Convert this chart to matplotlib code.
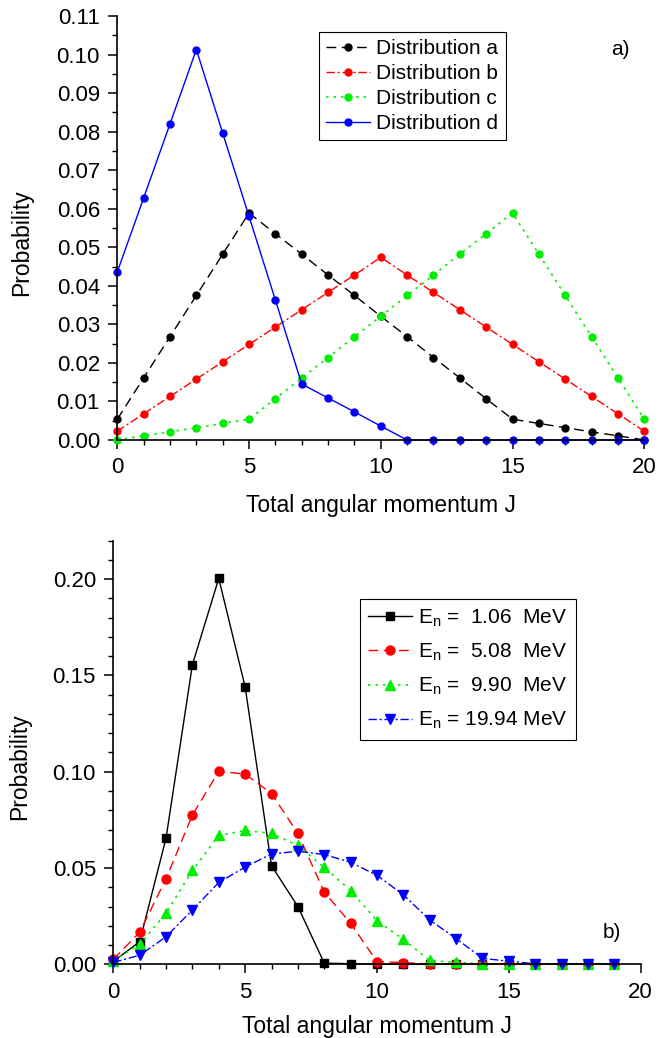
import matplotlib
matplotlib.use("Agg")
import matplotlib.pyplot as plt
from matplotlib.ticker import MultipleLocator, FormatStrFormatter

plt.rcParams['font.family'] = ['Liberation Sans', 'DejaVu Sans']
plt.rcParams['mathtext.default'] = 'regular'

# --- data -------------------------------------------------------------
J_top = list(range(0, 21))
dist_a = [0.0054, 0.0161, 0.0268, 0.0375, 0.0482, 0.0589, 0.0535, 0.0482,
          0.0428, 0.0375, 0.0321, 0.0268, 0.0214, 0.0161, 0.0107, 0.0054,
          0.0043, 0.0032, 0.0021, 0.0011, 0.0]
dist_b = [0.0023, 0.0068, 0.0113, 0.0158, 0.0203, 0.0248, 0.0293, 0.0338,
          0.0383, 0.0428, 0.0474, 0.0428, 0.0383, 0.0338, 0.0293, 0.0248,
          0.0203, 0.0158, 0.0113, 0.0068, 0.0023]
dist_c = [0.0, 0.0011, 0.0021, 0.0032, 0.0043, 0.0054, 0.0107, 0.0161,
          0.0214, 0.0268, 0.0321, 0.0375, 0.0428, 0.0482, 0.0535, 0.0589,
          0.0482, 0.0375, 0.0268, 0.0161, 0.0054]
dist_d = [0.0436, 0.0628, 0.0820, 0.1013, 0.0796, 0.0580, 0.0363, 0.0145,
          0.0109, 0.0073, 0.0036, 0.0, 0.0, 0.0, 0.0, 0.0, 0.0, 0.0, 0.0,
          0.0, 0.0]
top_labels = ["Distribution a", "Distribution b", "Distribution c", "Distribution d"]

J_bot = list(range(0, 20))
e_106 = [0.0015, 0.0117, 0.0655, 0.1556, 0.2004, 0.1441, 0.0512, 0.0300,
         0.0006, 0.0003, 0.0, 0.0, 0.0, 0.0, 0.0, 0.0, 0.0, 0.0, 0.0, 0.0]
e_508 = [0.0025, 0.0167, 0.0444, 0.0775, 0.1002, 0.0988, 0.0887, 0.0680,
         0.0375, 0.0213, 0.0014, 0.0009, 0.0002, 0.0001, 0.0, 0.0, 0.0, 0.0,
         0.0, 0.0]
e_990 = [0.0018, 0.0103, 0.0265, 0.0488, 0.0669, 0.0695, 0.0680, 0.0617,
         0.0503, 0.0383, 0.0226, 0.0129, 0.0020, 0.0010, 0.0004, 0.0003,
         0.0003, 0.0003, 0.0003, 0.0003]
e_1994 = [0.0010, 0.0047, 0.0143, 0.0282, 0.0425, 0.0505, 0.0573, 0.0587,
          0.0570, 0.0530, 0.0462, 0.0361, 0.0230, 0.0134, 0.0031, 0.0016,
          0.0003, 0.0003, 0.0003, 0.0003]
bot_labels = [r"E$_{n}$ =  1.06  MeV", r"E$_{n}$ =  5.08  MeV",
              r"E$_{n}$ =  9.90  MeV", r"E$_{n}$ = 19.94 MeV"]

# --- figure -----------------------------------------------------------
fig = plt.figure(figsize=(6.68, 10.38), dpi=100)
ax1 = fig.add_axes([0.1756, 0.5761, 0.7889, 0.4085])
ax2 = fig.add_axes([0.1696, 0.0710, 0.7895, 0.4081])

FS_TICK = 16
FS_LAB = 16.5
FS_LEG = 15

ms = 5
ax1.plot(J_top, dist_a, color="black", ls=(0, (7, 4)), lw=1, marker="o", ms=ms, label=top_labels[0])
ax1.plot(J_top, dist_b, color="red", ls=(0, (6, 2, 1.5, 2)), lw=1, marker="o", ms=ms, label=top_labels[1])
ax1.plot(J_top, dist_c, color="#00ee00", ls=(0, (1.5, 3)), lw=1.2, marker="o", ms=ms, label=top_labels[2])
ax1.plot(J_top, dist_d, color="blue", ls="-", lw=1, marker="o", ms=ms, label=top_labels[3])

ax1.set_xlim(0, 20)
ax1.set_ylim(0, 0.11)
ax1.xaxis.set_major_locator(MultipleLocator(5))
ax1.xaxis.set_minor_locator(MultipleLocator(1))
ax1.yaxis.set_major_locator(MultipleLocator(0.01))
ax1.yaxis.set_minor_locator(MultipleLocator(0.005))
ax1.yaxis.set_major_formatter(FormatStrFormatter("%.2f"))
ax1.set_xlabel("Total angular momentum J", fontsize=FS_LAB, labelpad=11)
ax1.set_ylabel("Probability", fontsize=FS_LAB)
ax1.yaxis.set_label_coords(-0.16, 0.465)
ax1.text(0.955, 0.92, "a)", transform=ax1.transAxes, fontsize=FS_LEG, ha="center", va="center")
leg1 = ax1.legend(loc="upper left", bbox_to_anchor=(0.383, 0.962), fontsize=FS_LEG,
                  fancybox=False, edgecolor="black", framealpha=1, borderaxespad=0,
                  handlelength=2.1, handletextpad=0.3, labelspacing=0.28, borderpad=0.35)
leg1.get_frame().set_linewidth(0.8)

ax2.plot(J_bot, e_106, color="black", ls="-", lw=1, marker="s", ms=6, label=bot_labels[0])
ax2.plot(J_bot, e_508, color="red", ls=(0, (7, 4)), lw=1, marker="o", ms=6.5, label=bot_labels[1])
ax2.plot(J_bot, e_990, color="#00ee00", ls=(0, (1.5, 3)), lw=1.2, marker="^", ms=7, label=bot_labels[2])
ax2.plot(J_bot, e_1994, color="blue", ls=(0, (6, 2, 1.5, 2)), lw=1, marker="v", ms=7, label=bot_labels[3])

ax2.set_xlim(0, 20)
ax2.set_ylim(0, 0.22)
ax2.xaxis.set_major_locator(MultipleLocator(5))
ax2.xaxis.set_minor_locator(MultipleLocator(1))
ax2.yaxis.set_major_locator(MultipleLocator(0.05))
ax2.yaxis.set_minor_locator(MultipleLocator(0.01))
ax2.yaxis.set_major_formatter(FormatStrFormatter("%.2f"))
ax2.set_xlabel("Total angular momentum J", fontsize=FS_LAB, labelpad=9)
ax2.set_ylabel("Probability", fontsize=FS_LAB)
ax2.yaxis.set_label_coords(-0.155, 0.466)
ax2.text(0.945, 0.075, "b)", transform=ax2.transAxes, fontsize=FS_LEG, ha="center", va="center")
leg2 = ax2.legend(loc="upper left", bbox_to_anchor=(0.468, 0.862), fontsize=FS_LEG,
                  fancybox=False, edgecolor="black", framealpha=1, borderaxespad=0,
                  handlelength=2.1, handletextpad=0.3, labelspacing=0.62, borderpad=0.4)
leg2.get_frame().set_linewidth(0.8)

for ax in (ax1, ax2):
    ax.spines["top"].set_visible(False)
    ax.spines["right"].set_visible(False)
    ax.spines["left"].set_linewidth(1.2)
    ax.spines["bottom"].set_linewidth(1.2)
    ax.tick_params(which="major", direction="out", length=6.5, width=1.1,
                   labelsize=FS_TICK, pad=6)
    ax.tick_params(which="minor", direction="out", length=3.4, width=1.0)
    for ln in ax.get_lines():
        ln.set_clip_on(False)

fig.savefig("out.png", dpi=100)
